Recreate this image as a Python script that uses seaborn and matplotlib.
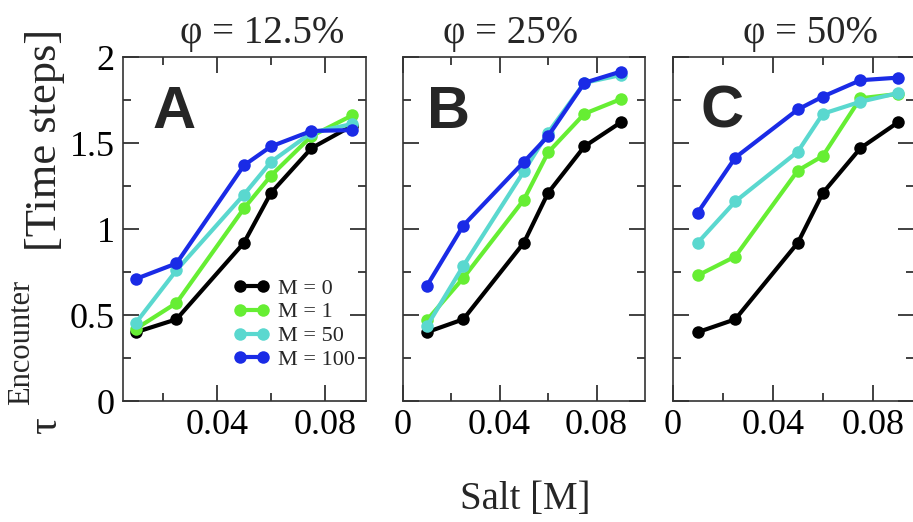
import numpy as np
import pandas as pd
import matplotlib
matplotlib.use("Agg")
import matplotlib.pyplot as plt
from matplotlib.lines import Line2D
import seaborn as sns

# ---- data ----
salt = [0.01, 0.025, 0.05, 0.06, 0.075, 0.09]
m_labels = ["M = 0", "M = 1", "M = 50", "M = 100"]
panel_titles = ["φ = 12.5%", "φ = 25%", "φ = 50%"]
panel_letters = ["A", "B", "C"]

# phi = 12.5%
a_m0 = [0.40, 0.475, 0.92, 1.21, 1.47, 1.60]
a_m1 = [0.42, 0.57, 1.12, 1.31, 1.54, 1.66]
a_m50 = [0.455, 0.76, 1.20, 1.39, 1.56, 1.61]
a_m100 = [0.71, 0.80, 1.37, 1.48, 1.57, 1.575]
# phi = 25%
b_m0 = [0.40, 0.475, 0.92, 1.21, 1.48, 1.62]
b_m1 = [0.47, 0.715, 1.17, 1.445, 1.67, 1.755]
b_m50 = [0.435, 0.785, 1.335, 1.56, 1.85, 1.895]
b_m100 = [0.67, 1.02, 1.39, 1.54, 1.85, 1.915]
# phi = 50%
c_m0 = [0.40, 0.475, 0.92, 1.21, 1.47, 1.62]
c_m1 = [0.73, 0.84, 1.34, 1.425, 1.76, 1.785]
c_m50 = [0.92, 1.16, 1.45, 1.67, 1.74, 1.79]
c_m100 = [1.095, 1.415, 1.695, 1.77, 1.865, 1.88]

panels = [
    [a_m0, a_m1, a_m50, a_m100],
    [b_m0, b_m1, b_m50, b_m100],
    [c_m0, c_m1, c_m50, c_m100],
]

colors = ["#000000", "#66ee33", "#5ad8cf", "#1a2be6"]
palette = dict(zip(m_labels, colors))

sns.set_theme(style="ticks")
plt.rcParams["font.family"] = ["Liberation Serif", "DejaVu Serif"]

W, H = 913, 522
fig = plt.figure(figsize=(W / 100, H / 100), dpi=100)

# axes boxes in pixels: left, right
boxes = [(123, 366), (402.7, 645), (672.7, 914)]
xlims = [(0.0052, 0.0952), (0.0, 0.1), (0.0, 0.0964)]
top_px, bot_px = 57, 401
title_x = [262, 511, 810]
letter_xy = [(174, 112), (448, 112), (722, 112)]

for i, (series, (l, r)) in enumerate(zip(panels, boxes)):
    ax = fig.add_axes([l / W, 1 - bot_px / H, (r - l) / W, (bot_px - top_px) / H])
    rows = []
    for lab, vals in zip(m_labels, series):
        for x, y in zip(salt, vals):
            rows.append({"salt": x, "tau": y, "M": lab})
    df = pd.DataFrame(rows)
    sns.lineplot(data=df, x="salt", y="tau", hue="M", hue_order=m_labels,
                 palette=palette, marker="o", markersize=9, markeredgewidth=0,
                 linewidth=3, legend=False, ax=ax, sort=False)
    if i == 0:
        ax.set_xticks([0.04, 0.08])
        ax.set_xticklabels(["0.04", "0.08"])
    else:
        ax.set_xticks([0, 0.04, 0.08])
        ax.set_xticklabels(["0", "0.04", "0.08"])
    ax.set_xticks([0.02, 0.06], minor=True)
    ax.set_yticks([0, 0.5, 1, 1.5, 2])
    ax.set_yticks([0.25, 0.75, 1.25, 1.75], minor=True)
    ax.set_xlim(*xlims[i])
    ax.set_ylim(0, 2)
    if i == 0:
        ax.set_yticklabels(["0", "0.5", "1", "1.5", "2"])
    else:
        ax.set_yticklabels([])
    ax.tick_params(which="both", direction="in", top=True, right=True,
                   width=1.3, colors="#333333", labelcolor="black")
    ax.tick_params(which="major", length=11.5, labelsize=26, pad=6)
    ax.tick_params(which="minor", length=6)
    ax.set_xlabel("")
    ax.set_ylabel("")
    for s in ax.spines.values():
        s.set_linewidth(1.2)
        s.set_color("#333333")
    ax.text(letter_xy[i][0] / W, 1 - letter_xy[i][1] / H, panel_letters[i],
            transform=fig.transFigure, ha="center", va="center",
            fontsize=43, fontweight="bold", family=["Liberation Sans", "DejaVu Sans"])
    fig.text(title_x[i] / W, 1 - 43 / H, panel_titles[i], ha="center",
             va="baseline", fontsize=28)
    if i == 0:
        handles = [Line2D([0], [0], color=c, lw=3, marker="o", markersize=9,
                          markeredgewidth=0) for c in colors]
        ax.legend(handles, m_labels, loc="upper left", frameon=False,
                  numpoints=2, fontsize=16, handlelength=1.65, handletextpad=0.38,
                  labelspacing=0.15, borderaxespad=0.0, borderpad=0.0,
                  bbox_to_anchor=((233 - l) / (r - l), (bot_px - 278) / (bot_px - top_px)))

# y label pieces
fig.text(45 / W, 1 - 140 / H, "[Time steps]", rotation=90, ha="center",
         va="center", fontsize=32)
fig.text(22 / W, 1 - 342 / H, "Encounter", rotation=90, ha="center",
         va="center", fontsize=22)
fig.text(46 / W, 1 - 426 / H, "τ", rotation=90, ha="center",
         va="center", fontsize=30)
# x label
fig.text(525 / W, 1 - 500 / H, "Salt [M]", ha="center", va="center", fontsize=28)

fig.savefig("out.png", dpi=100)
